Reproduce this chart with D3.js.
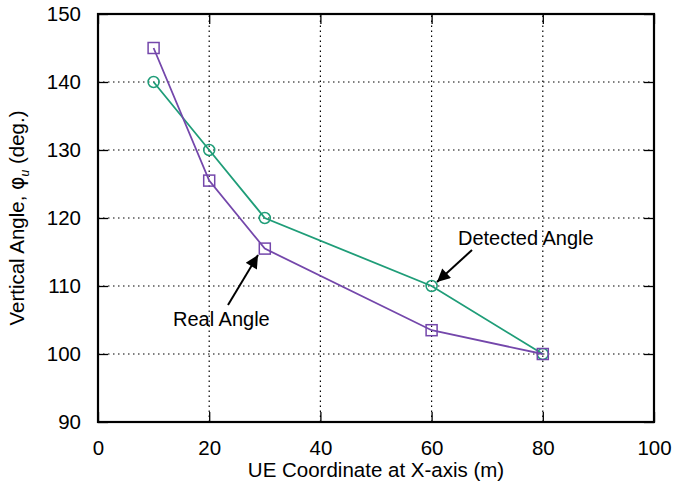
<!DOCTYPE html>
<html>
<head>
<meta charset="utf-8">
<script src="https://cdn.jsdelivr.net/npm/d3@7"></script>
<style>
  body { margin: 0; background: #fff; }
  text { font-family: "Liberation Sans", Arial, Helvetica, sans-serif; }
</style>
</head>
<body>
<script>
const xs = [10, 20, 30, 60, 80];
const realAngle = [145, 125.5, 115.5, 103.5, 100];
const detectedAngle = [140, 130, 120, 110, 100];
const xTicks = [0, 20, 40, 60, 80, 100];
const yTicks = [90, 100, 110, 120, 130, 140, 150];

const width = 674, height = 491;
const margin = { top: 14, right: 20, bottom: 69, left: 98 };

const svg = d3.create('svg')
    .attr('width', width)
    .attr('height', height)
    .attr('viewBox', [0, 0, width, height]);

const x = d3.scaleLinear().domain([0, 100]).range([margin.left, width - margin.right]);
const y = d3.scaleLinear().domain([90, 150]).range([height - margin.bottom, margin.top]);

// grid
const grid = svg.append('g')
    .attr('stroke', '#000')
    .attr('stroke-width', 1.2)
    .attr('stroke-dasharray', '1.5,3.5');
grid.selectAll('.gx')
  .data(xTicks.slice(1, -1))
  .join('line')
    .attr('x1', d => x(d)).attr('x2', d => x(d))
    .attr('y1', y(90)).attr('y2', y(150));
grid.selectAll('.gy')
  .data(yTicks.slice(1, -1))
  .join('line')
    .attr('x1', x(0)).attr('x2', x(100))
    .attr('y1', d => y(d)).attr('y2', d => y(d));

// axes (ticks inward, mirrored)
const tickLen = 10;
svg.append('g')
    .attr('transform', `translate(0,${y(90)})`)
    .call(d3.axisBottom(x).tickValues(xTicks).tickSize(-tickLen).tickPadding(tickLen + 8));
svg.append('g')
    .attr('transform', `translate(${x(0)},0)`)
    .call(d3.axisLeft(y).tickValues(yTicks).tickSize(-tickLen).tickPadding(tickLen + 7));
svg.append('g')
    .attr('transform', `translate(0,${y(150)})`)
    .call(d3.axisTop(x).tickValues(xTicks).tickSize(-tickLen).tickFormat(''));
svg.append('g')
    .attr('transform', `translate(${x(100)},0)`)
    .call(d3.axisRight(y).tickValues(yTicks).tickSize(-tickLen).tickFormat(''));
svg.selectAll('.domain').remove();
svg.selectAll('.tick line').attr('stroke', '#000').attr('stroke-width', 1.3);
svg.selectAll('.tick text').attr('font-size', 20.5).attr('fill', '#000')
    .attr('font-family', '"Liberation Sans", Arial, sans-serif');

svg.append('rect')
    .attr('x', x(0)).attr('y', y(150))
    .attr('width', x(100) - x(0)).attr('height', y(90) - y(150))
    .attr('fill', 'none').attr('stroke', '#000').attr('stroke-width', 2.2);

// series
const series = [
  { name: 'Detected Angle', values: detectedAngle, color: '#1f9d78', shape: 'circle' },
  { name: 'Real Angle', values: realAngle, color: '#7447ab', shape: 'square' }
];
const line = d3.line().x(d => x(d[0])).y(d => y(d[1]));
series.forEach(s => {
  const pts = xs.map((v, i) => [v, s.values[i]]);
  svg.append('path')
      .attr('d', line(pts))
      .attr('fill', 'none')
      .attr('stroke', s.color)
      .attr('stroke-width', 1.8);
  const g = svg.append('g').attr('fill', 'none').attr('stroke', s.color).attr('stroke-width', 1.5);
  if (s.shape === 'circle') {
    g.selectAll('circle').data(pts).join('circle')
        .attr('cx', d => x(d[0])).attr('cy', d => y(d[1])).attr('r', 5.5);
  } else {
    g.selectAll('rect').data(pts).join('rect')
        .attr('x', d => x(d[0]) - 5.5).attr('y', d => y(d[1]) - 5.5)
        .attr('width', 11).attr('height', 11);
  }
});

// annotations
svg.append('defs').append('marker')
    .attr('id', 'arr')
    .attr('viewBox', '0 0 10 10')
    .attr('refX', 10).attr('refY', 5)
    .attr('markerWidth', 18).attr('markerHeight', 13)
    .attr('markerUnits', 'userSpaceOnUse')
    .attr('orient', 'auto')
  .append('path')
    .attr('d', 'M0,0L10,5L0,10z')
    .attr('fill', '#000');

const arrows = [
  { from: [472, 250], to: [437, 282] },
  { from: [228, 305], to: [258, 255] }
];
svg.selectAll('.arrow').data(arrows).join('line')
    .attr('x1', d => d.from[0]).attr('y1', d => d.from[1])
    .attr('x2', d => d.to[0]).attr('y2', d => d.to[1])
    .attr('stroke', '#000').attr('stroke-width', 2)
    .attr('marker-end', 'url(#arr)');

svg.append('text').attr('x', 458).attr('y', 245).attr('font-size', 20).text('Detected Angle');
svg.append('text').attr('x', 173).attr('y', 326).attr('font-size', 20).text('Real Angle');

// axis labels
svg.append('text')
    .attr('x', (x(0) + x(100)) / 2).attr('y', 477)
    .attr('text-anchor', 'middle').attr('font-size', 20.5)
    .text('UE Coordinate at X-axis (m)');

const yl = svg.append('text')
    .attr('transform', `translate(24,${(y(90) + y(150)) / 2}) rotate(-90)`)
    .attr('text-anchor', 'middle').attr('font-size', 20.5);
yl.append('tspan').text('Vertical Angle, ');
yl.append('tspan').attr('font-family', '"DejaVu Sans", sans-serif').text('\u03C6');
yl.append('tspan').attr('font-size', 12).attr('font-style', 'italic').attr('dy', 5).text('u');
yl.append('tspan').attr('dy', -5).text(' (deg.)');

document.body.append(svg.node());
</script>
</body>
</html>
